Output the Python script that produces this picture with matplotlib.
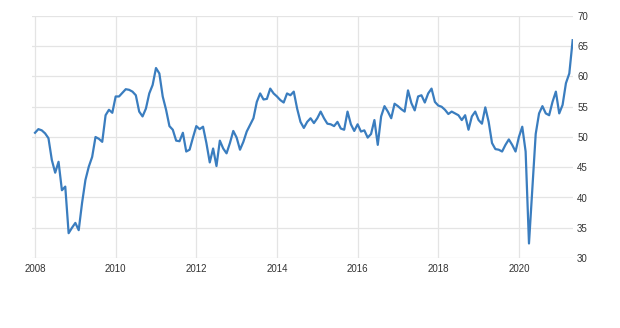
import numpy as np
import matplotlib.pyplot as plt

# --- monthly index values (Jan 2008 .. May 2021) ---
v2008 = [50.7, 51.3, 51.1, 50.6, 49.8, 46.2, 44.1, 45.9, 41.2, 41.8, 34.1, 35.0]
v2009 = [35.8, 34.6, 39.1, 42.9, 45.1, 46.7, 50.0, 49.7, 49.2, 53.6, 54.5, 54.0]
v2010 = [56.7, 56.7, 57.3, 57.9, 57.8, 57.5, 56.9, 54.2, 53.4, 54.7, 57.2, 58.6]
v2011 = [61.4, 60.5, 56.7, 54.5, 51.8, 51.2, 49.4, 49.3, 50.7, 47.6, 47.9, 49.9]
v2012 = [51.8, 51.3, 51.7, 49.0, 45.8, 48.1, 45.2, 49.4, 48.1, 47.3, 49.0, 51.0]
v2013 = [49.9, 47.9, 49.2, 50.9, 52.0, 53.1, 55.8, 57.2, 56.2, 56.3, 58.0, 57.2]
v2014 = [56.7, 56.1, 55.7, 57.2, 56.9, 57.5, 54.7, 52.5, 51.5, 52.5, 53.1, 52.3]
v2015 = [53.1, 54.2, 53.1, 52.2, 52.1, 51.8, 52.5, 51.4, 51.2, 54.2, 52.1, 51.0]
v2016 = [52.1, 50.9, 51.1, 49.9, 50.5, 52.8, 48.7, 53.4, 55.1, 54.2, 53.1, 55.5]
v2017 = [55.1, 54.6, 54.2, 57.7, 55.6, 54.4, 56.7, 56.9, 55.7, 57.2, 58.0, 55.8]
v2018 = [55.2, 55.0, 54.5, 53.8, 54.2, 53.9, 53.6, 52.8, 53.6, 51.2, 53.4, 54.2]
v2019 = [52.8, 52.2, 54.9, 52.5, 49.0, 48.0, 47.9, 47.6, 48.7, 49.6, 48.7, 47.6]
v2020 = [50.0, 51.7, 47.6, 32.4, 41.5, 50.5, 53.9, 55.1, 53.9, 53.6, 55.8, 57.5]
v2021 = [53.9, 55.3, 58.9, 60.5, 66.0]

values = (v2008 + v2009 + v2010 + v2011 + v2012 + v2013 + v2014 + v2015
          + v2016 + v2017 + v2018 + v2019 + v2020 + v2021)
start_year = 2008
x = start_year + np.arange(len(values)) / 12.0

xticks = [2008, 2010, 2012, 2014, 2016, 2018, 2020]
yticks = [30, 35, 40, 45, 50, 55, 60, 65, 70]

# --- plot ---
fig = plt.figure(figsize=(6.2, 3.28), dpi=100)
ax = fig.add_axes([32/620, 1 - 258/328, 541/620, 242/328])

ax.plot(x, values, color='#3a7dbf', linewidth=1.6, solid_joinstyle='round')

ax.set_xlim(2008 - 0.075, 2008 + 160.1/12)
ax.set_ylim(30, 70)
ax.set_xticks(xticks)
ax.set_xticklabels([str(t) for t in xticks])
ax.set_yticks(yticks)
ax.yaxis.tick_right()

ax.grid(True, color='#e4e4e4', linewidth=0.9)
ax.set_axisbelow(True)
for s in ax.spines.values():
    s.set_visible(False)

ax.tick_params(axis='x', length=0, pad=4.5, labelsize=7, labelcolor='#333333')
ax.tick_params(axis='y', length=0, pad=3, labelsize=7, labelcolor='#333333')
for lab in ax.get_xticklabels() + ax.get_yticklabels():
    lab.set_family('Liberation Sans')

fig.savefig('out.png', dpi=100, facecolor='white')
